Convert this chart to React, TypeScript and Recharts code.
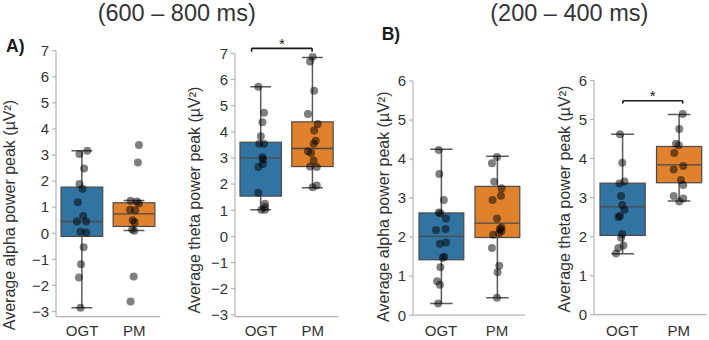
import React from 'react';
import {
  ComposedChart,
  XAxis,
  YAxis,
  Bar,
  Scatter,
  ReferenceLine,
  ReferenceDot,
} from 'recharts';

const FONT = '"Liberation Sans", Arial, Helvetica, sans-serif';
const TEXT = '#333333';
const AXIS = '#b4b4b4';
const EDGE = '#4a4a4a';

const groups = ['OGT', 'PM'];
const groupColors = ['#3274a1', '#e1812c'];

const titles = ['(600 – 800 ms)', '(200 – 400 ms)'];
const panelTags = ['A)', 'B)'];
const yLabels = [
  'Average alpha power peak (µV²)',
  'Average theta power peak (µV²)',
  'Average alpha power peak (µV²)',
  'Average theta power peak (µV²)',
];

const ticksWide = [-3, -2, -1, 0, 1, 2, 3, 4, 5, 6, 7];
const ticksNarrow = [0, 1, 2, 3, 4, 5, 6];

// Box statistics per group: [whisker low, q1, median, q3, whisker high]
const alphaLateBoxes = [
  [-2.86, -0.12, 0.45, 1.77, 3.16],
  [0.11, 0.26, 0.74, 1.17, 1.26],
];
const thetaLateBoxes = [
  [1.02, 1.54, 3.0, 3.6, 5.72],
  [1.86, 2.67, 3.36, 4.38, 6.84],
];
const alphaEarlyBoxes = [
  [0.3, 1.42, 2.02, 2.62, 4.25],
  [0.45, 1.99, 2.36, 3.3, 4.07],
];
const thetaEarlyBoxes = [
  [1.56, 2.03, 2.76, 3.37, 4.62],
  [2.91, 3.38, 3.84, 4.31, 5.13],
];

// Individual participants (value) with their horizontal jitter
const alphaLateOGT = [3.16, 3.04, 2.48, 1.89, 1.71, 1.19, 0.66, 0.45, 0.45, 0.06, 0.03, -0.54, -1.19, -1.7, -2.86];
const alphaLateOGTJitter = [0.1, -0.05, 0.04, -0.05, 0.01, -0.08, 0.02, -0.1, 0.08, -0.03, 0.08, 0.03, -0.02, -0.06, -0.03];
const alphaLatePM = [3.38, 2.71, 1.25, 1.22, 1.14, 0.9, 0.88, 0.5, 0.42, 0.14, 0.1, -1.66, -2.62];
const alphaLatePMJitter = [0.09, 0.07, -0.07, 0.05, 0.09, -0.08, 0.02, -0.03, 0.01, -0.04, 0.0, -0.01, -0.07];

const thetaLateOGT = [5.72, 4.73, 4.36, 3.83, 3.54, 3.54, 3.03, 2.94, 2.77, 2.65, 1.67, 1.25, 1.12, 1.02, 1.02];
const thetaLateOGTJitter = [-0.05, 0.06, 0.03, 0.0, -0.03, 0.06, 0.03, 0.04, 0.04, -0.05, -0.05, 0.08, 0.08, 0.01, 0.08];
const thetaLatePM = [6.87, 6.69, 5.57, 4.68, 4.3, 4.05, 3.66, 3.54, 3.26, 3.19, 2.9, 2.67, 2.65, 1.95, 1.88];
const thetaLatePMJitter = [0.0, -0.05, 0.03, -0.09, 0.1, 0.03, 0.06, 0.02, -0.09, -0.03, 0.02, -0.05, 0.08, 0.08, 0.0];

const alphaEarlyOGT = [4.23, 3.62, 2.95, 2.63, 2.61, 2.48, 2.21, 2.18, 1.86, 1.83, 1.5, 1.47, 1.23, 0.87, 0.78, 0.3];
const alphaEarlyOGTJitter = [-0.04, -0.03, 0.05, -0.04, -0.01, 0.09, 0.08, -0.09, 0.09, -0.02, 0.06, 0.03, -0.01, -0.07, -0.02, -0.05];
const alphaEarlyPM = [4.05, 3.89, 3.42, 3.25, 3.06, 2.95, 2.48, 2.25, 2.21, 2.16, 2.1, 2.06, 1.72, 1.27, 1.1, 0.45];
const alphaEarlyPMJitter = [0.0, -0.09, -0.05, 0.08, 0.07, -0.08, 0.0, 0.08, 0.05, 0.08, 0.04, -0.07, -0.09, 0.04, 0.01, 0.0];

const thetaEarlyOGT = [4.62, 3.89, 3.41, 3.36, 3.04, 2.81, 2.69, 2.53, 2.5, 2.07, 1.97, 1.77, 1.71, 1.57];
const thetaEarlyOGTJitter = [-0.04, 0.0, 0.04, -0.05, -0.02, 0.0, 0.04, -0.04, -0.07, 0.0, -0.02, 0.02, -0.07, -0.11];
const thetaEarlyPM = [5.14, 4.76, 4.38, 4.34, 4.14, 3.81, 3.72, 3.45, 3.32, 3.04, 2.98, 2.9];
const thetaEarlyPMJitter = [0.07, 0.01, -0.05, 0.0, -0.08, 0.08, -0.09, 0.04, 0.08, -0.09, 0.08, 0.01];

// Significance brackets: [x start, x end, bar level, tip level, star level]
const thetaLateBracket = [-0.18, 0.99, 7.19, 7.06, 7.47];
const thetaEarlyBracket = [0.01, 1.07, 5.48, 5.41, 5.68];

type Pt = { x: number; y: number };

const toPoints = (vals: number[][], jit: number[][]): Pt[] =>
  vals.flatMap((arr, g) => arr.map((v, i) => ({ x: g + jit[g][i], y: v })));

const toBoxes = (stats: number[][]) =>
  groups.map((name, g) => ({
    name,
    box: [stats[g][1], stats[g][3]],
    stats: stats[g],
    color: groupColors[g],
  }));

const BoxShape = (props: any) => {
  const { x, y, width, height, payload } = props;
  const [lo, q1, med, q3, hi] = payload.stats as number[];
  const top = Math.min(y, y + height);
  const h = Math.abs(height);
  const k = h / (q3 - q1);
  const py = (v: number) => top + (q3 - v) * k;
  const cx = x + width / 2;
  const cap = width / 4;
  return (
    <g>
      <line x1={cx} x2={cx} y1={py(hi)} y2={py(lo)} stroke="#5a5a5a" strokeWidth={1.5} />
      <line x1={cx - cap} x2={cx + cap} y1={py(hi)} y2={py(hi)} stroke="#5a5a5a" strokeWidth={1.5} />
      <line x1={cx - cap} x2={cx + cap} y1={py(lo)} y2={py(lo)} stroke="#5a5a5a" strokeWidth={1.5} />
      <rect x={x} y={top} width={width} height={h} fill={payload.color} stroke={EDGE} strokeWidth={1.2} />
      <line x1={x} x2={x + width} y1={py(med)} y2={py(med)} stroke={EDGE} strokeWidth={1.3} />
    </g>
  );
};

const Dot = (props: any) => (
  <circle cx={props.cx} cy={props.cy} r={4} fill="#000" fillOpacity={0.5} />
);

const fmt = (v: number) => (v < 0 ? `−${Math.abs(v)}` : String(v));

type PanelProps = {
  left: number;
  right: number;
  top: number;
  bottom: number;
  domain: [number, number];
  ticks: number[];
  boxes: ReturnType<typeof toBoxes>;
  points: Pt[];
  bracket?: number[];
};

const Y_W = 40;
const H = 340;

function Panel({ left, right, top, bottom, domain, ticks, boxes, points, bracket }: PanelProps) {
  const plotW = right - left;
  const W = Math.ceil(Y_W + plotW + 4);
  const band = plotW / 2;
  const xh = H - bottom;
  const tickStyle = { fontSize: 15, fill: TEXT, fontFamily: FONT };
  return (
    <div style={{ position: 'absolute', left: left - Y_W, top: 0 }}>
      <ComposedChart
        width={W}
        height={H}
        data={boxes}
        margin={{ top, right: W - Y_W - plotW, bottom: 0, left: 0 }}
      >
        <XAxis
          xAxisId="cat"
          dataKey="name"
          type="category"
          height={xh}
          tickLine={false}
          tickSize={0}
          tickMargin={325.75 - bottom}
          axisLine={{ stroke: AXIS, strokeWidth: 1.2 }}
          tick={tickStyle}
          interval={0}
        />
        <XAxis xAxisId="num" dataKey="x" type="number" domain={[-0.5, 1.5]} allowDataOverflow hide />
        <YAxis
          type="number"
          domain={domain}
          ticks={ticks}
          allowDataOverflow
          width={Y_W}
          tickSize={4}
          tickMargin={3}
          tickLine={{ stroke: AXIS, strokeWidth: 1.2 }}
          axisLine={{ stroke: AXIS, strokeWidth: 1.2 }}
          tick={tickStyle}
          tickFormatter={fmt}
          interval={0}
        />
        <Bar
          xAxisId="cat"
          dataKey="box"
          barSize={band * 0.8}
          shape={BoxShape}
          isAnimationActive={false}
        />
        <Scatter
          xAxisId="num"
          data={points}
          dataKey="y"
          shape={Dot}
          isAnimationActive={false}
        />
        {bracket && (
          <ReferenceLine
            xAxisId="num"
            ifOverflow="visible"
            segment={[{ x: bracket[0], y: bracket[2] }, { x: bracket[1], y: bracket[2] }]}
            stroke="#1a1a1a"
            strokeWidth={1.6}
          />
        )}
        {bracket && (
          <ReferenceLine
            xAxisId="num"
            ifOverflow="visible"
            segment={[{ x: bracket[0], y: bracket[3] }, { x: bracket[0], y: bracket[2] }]}
            stroke="#1a1a1a"
            strokeWidth={1.6}
          />
        )}
        {bracket && (
          <ReferenceLine
            xAxisId="num"
            ifOverflow="visible"
            segment={[{ x: bracket[1], y: bracket[3] }, { x: bracket[1], y: bracket[2] }]}
            stroke="#1a1a1a"
            strokeWidth={1.6}
          />
        )}
        {bracket && (
          <ReferenceDot
            xAxisId="num"
            x={(bracket[0] + bracket[1]) / 2}
            y={bracket[4]}
            ifOverflow="visible"
            shape={(p: any) => (
              <text
                x={p.cx}
                y={p.cy + 8}
                textAnchor="middle"
                fontSize={15}
                fontFamily={FONT}
                fill="#1a1a1a"
              >
                *
              </text>
            )}
          />
        )}
      </ComposedChart>
    </div>
  );
}

const yLabelPos = [
  [15, 215],
  [200, 200],
  [388.5, 206.7],
  [570, 199],
];

export default function App() {
  return (
    <div
      style={{
        position: 'absolute',
        left: 0,
        top: 0,
        width: 709,
        height: 340,
        background: '#fff',
        overflow: 'hidden',
        fontFamily: FONT,
      }}
    >
      <Panel
        left={55.5}
        right={159.8}
        top={50.7}
        bottom={316.7}
        domain={[-3.2, 7]}
        ticks={ticksWide}
        boxes={toBoxes(alphaLateBoxes)}
        points={toPoints([alphaLateOGT, alphaLatePM], [alphaLateOGTJitter, alphaLatePMJitter])}
      />
      <Panel
        left={235}
        right={338.5}
        top={53.3}
        bottom={316.7}
        domain={[-3.07, 7]}
        ticks={ticksWide}
        boxes={toBoxes(thetaLateBoxes)}
        points={toPoints([thetaLateOGT, thetaLatePM], [thetaLateOGTJitter, thetaLatePMJitter])}
        bracket={thetaLateBracket}
      />
      <Panel
        left={413}
        right={525}
        top={81}
        bottom={315.2}
        domain={[0, 6]}
        ticks={ticksNarrow}
        boxes={toBoxes(alphaEarlyBoxes)}
        points={toPoints([alphaEarlyOGT, alphaEarlyPM], [alphaEarlyOGTJitter, alphaEarlyPMJitter])}
      />
      <Panel
        left={593.5}
        right={706.5}
        top={80.5}
        bottom={314.7}
        domain={[0, 6]}
        ticks={ticksNarrow}
        boxes={toBoxes(thetaEarlyBoxes)}
        points={toPoints([thetaEarlyOGT, thetaEarlyPM], [thetaEarlyOGTJitter, thetaEarlyPMJitter])}
        bracket={thetaEarlyBracket}
      />
      <svg
        width={709}
        height={340}
        style={{ position: 'absolute', left: 0, top: 0, pointerEvents: 'none' }}
      >
        <text x={176.7} y={21} textAnchor="middle" fontSize={23.5} fill={TEXT} fontFamily={FONT}>
          {titles[0]}
        </text>
        <text x={569.3} y={21} textAnchor="middle" fontSize={23.5} fill={TEXT} fontFamily={FONT}>
          {titles[1]}
        </text>
        <text x={6} y={52.3} fontSize={17.5} fontWeight="bold" fill="#1a1a1a" fontFamily={FONT}>
          {panelTags[0]}
        </text>
        <text x={381.7} y={40} fontSize={17.5} fontWeight="bold" fill="#1a1a1a" fontFamily={FONT}>
          {panelTags[1]}
        </text>
        {yLabels.map((t, i) => (
          <text
            key={i}
            transform={`translate(${yLabelPos[i][0]},${yLabelPos[i][1]}) rotate(-90)`}
            textAnchor="middle"
            fontSize={16}
            fill={TEXT}
            fontFamily={FONT}
          >
            {t}
          </text>
        ))}
      </svg>
    </div>
  );
}
